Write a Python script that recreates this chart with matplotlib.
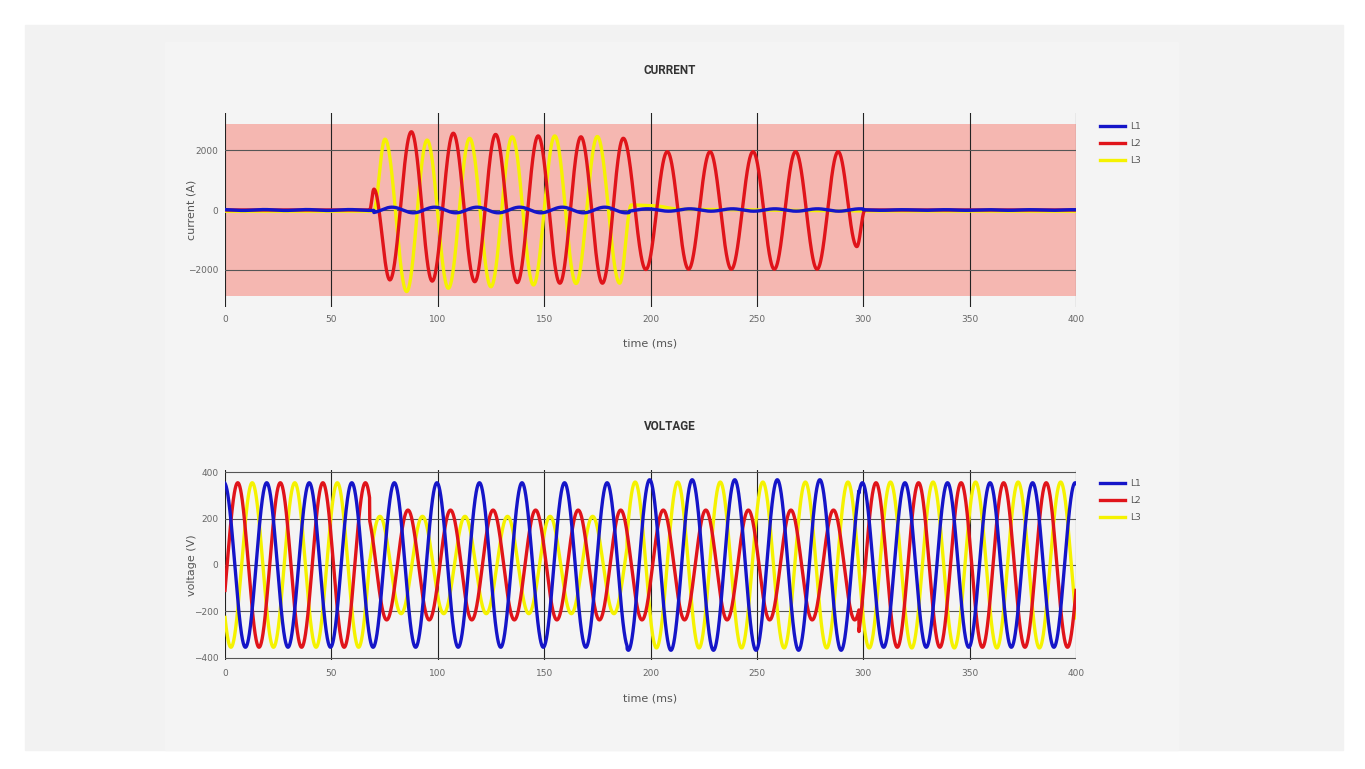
import numpy as np
import matplotlib.pyplot as plt
from matplotlib.patches import Rectangle

# fault record, 400 ms, 50 Hz system
period = 20.0
current_limit = 2900

# L2 / L3 currents: turning points (ms, A)
i_l2_t = [0, 68.0, 70.0, 77.5, 87.6, 97.4, 107.3, 117.4, 127.2, 137.4, 147.2, 157.4,
          167.3, 177.4, 187.2, 197.8, 207.9, 217.9, 228.0, 238.0, 248.2, 258.2,
          268.2, 278.3, 288.2, 297.0, 300.8, 400]
i_l2_v = [0, 0, 700, -2350, 2630, -2390, 2580, -2410, 2540, -2440, 2490, -2460,
          2460, -2460, 2410, -2000, 1960, -1990, 1960, -1990, 1960, -1990,
          1960, -1990, 1960, -1230, 0, 0]

i_l3_t = [0, 69.8, 75.2, 85.4, 95.0, 105.0, 115.0, 125.0, 135.0, 145.0, 155.0,
          165.0, 175.0, 185.5, 191.0, 200.0, 215.0, 300.0, 400]
i_l3_v = [-40, -40, 2380, -2740, 2350, -2630, 2410, -2580, 2460, -2520, 2490,
          -2470, 2470, -2460, 170, 150, 20, -30, -40]

# L1 current stays small: segments (ms), amplitude (A), time of a peak (ms)
i_l1_edges = [0, 70, 190, 300, 400]
i_l1_amps = [15, 95, 40, 10]
i_l1_peak = 78.5

# voltages: segments (ms), amplitude (V), time of a peak (ms)
v_l1_edges = [0, 189, 298, 400]
v_l1_amps = [355, 368, 355]
v_l1_peak = -0.4

v_l2_edges = [0, 68, 298, 400]
v_l2_amps = [355, 237, 355]
v_l2_peak = 6.0

v_l3_edges = [0, 68, 189, 400]
v_l3_amps = [355, 210, 358]
v_l3_peak = 12.8

labels = ['L1', 'L2', 'L3']
colors = ['#1515c8', '#e0141a', '#f5f200']


def sine_segments(t, edges, amps, peak):
    y = np.zeros_like(t)
    for i in range(len(amps)):
        m = (t >= edges[i]) & (t <= edges[i + 1])
        y[m] = amps[i] * np.cos(2 * np.pi * (t[m] - peak) / period)
    return y


def join_turns(t, tt, vv):
    y = np.zeros_like(t)
    for i in range(len(tt) - 1):
        m = (t >= tt[i]) & (t <= tt[i + 1])
        s = (t[m] - tt[i]) / (tt[i + 1] - tt[i])
        y[m] = vv[i] + (vv[i + 1] - vv[i]) * (1 - np.cos(np.pi * s)) / 2
    return y


t = np.arange(0, 400.01, 0.05)
currents = [sine_segments(t, i_l1_edges, i_l1_amps, i_l1_peak),
            join_turns(t, i_l2_t, i_l2_v),
            join_turns(t, i_l3_t, i_l3_v)]
voltages = [sine_segments(t, v_l1_edges, v_l1_amps, v_l1_peak),
            sine_segments(t, v_l2_edges, v_l2_amps, v_l2_peak),
            sine_segments(t, v_l3_edges, v_l3_amps, v_l3_peak)]

W, H = 1365, 769
fig = plt.figure(figsize=(W / 100, H / 100), dpi=100)
fig.patch.set_facecolor('white')
fig.patches.append(Rectangle((25 / W, 1 - 750 / H), 1318 / W, 725 / H,
                             transform=fig.transFigure, color='#f2f2f2', zorder=-2))
fig.patches.append(Rectangle((165 / W, 1 - 750 / H), 1013 / W, 708 / H,
                             transform=fig.transFigure, color='#f4f4f4', zorder=-1))

ax1 = fig.add_axes([225 / W, 1 - 307 / H, 851 / W, 194 / H])
ax2 = fig.add_axes([225 / W, 1 - 660 / H, 851 / W, 190 / H])


def style(ax, ylabel, yticks, ylim, pad):
    ax.set_facecolor('none')
    for s in ax.spines.values():
        s.set_visible(False)
    ax.set_xlim(0, 400)
    ax.set_ylim(*ylim)
    ax.set_xticks(range(0, 401, 50))
    ax.set_yticks(yticks)
    ax.set_axisbelow(True)
    ax.grid(True, axis='x', color='#222222', lw=0.8)
    ax.grid(True, axis='y', color='#555555', lw=0.8)
    ax.tick_params(length=0, labelsize=6.5, labelcolor='#666666')
    ax.tick_params(axis='x', pad=pad)
    ax.tick_params(axis='y', pad=4.7)
    ax.set_xlabel('time (ms)', fontsize=8, color='#555555', labelpad=10.5)
    ax.set_ylabel(ylabel, fontsize=8, color='#555555')
    ax.yaxis.set_label_coords(-0.033, 0.5)


style(ax1, 'current (A)', [-2000, 0, 2000], (-3260, 3260), 5.4)
style(ax2, 'voltage (V)', [-400, -200, 0, 200, 400], (-410, 410), 6.8)

ax1.axhspan(-current_limit, current_limit, color='#f5b7b1', lw=0, zorder=0.2)

for ax, data in [(ax1, currents), (ax2, voltages)]:
    lines = []
    for k in [2, 1, 0]:
        ln, = ax.plot(t, data[k], color=colors[k], lw=2.4, label=labels[k], zorder=2 + (2 - k))
        lines.append(ln)
    lines = lines[::-1]
    leg = ax.legend(lines, labels, loc='upper left', bbox_to_anchor=(1.0176, 1.0),
                    frameon=False, fontsize=6.5, handlelength=2.8, handletextpad=0.5,
                    labelspacing=0.9, borderaxespad=0, borderpad=1.0)
    for txt in leg.get_texts():
        txt.set_color('#555555')

fig.text(670 / W, 1 - 71 / H, 'CURRENT', ha='center', va='center', fontsize=8.5,
         fontweight='bold', color='#333333', family='Roboto')
fig.text(670 / W, 1 - 427 / H, 'VOLTAGE', ha='center', va='center', fontsize=8.5,
         fontweight='bold', color='#333333', family='Roboto')

fig.savefig('out.png', dpi=100, facecolor=fig.get_facecolor())
